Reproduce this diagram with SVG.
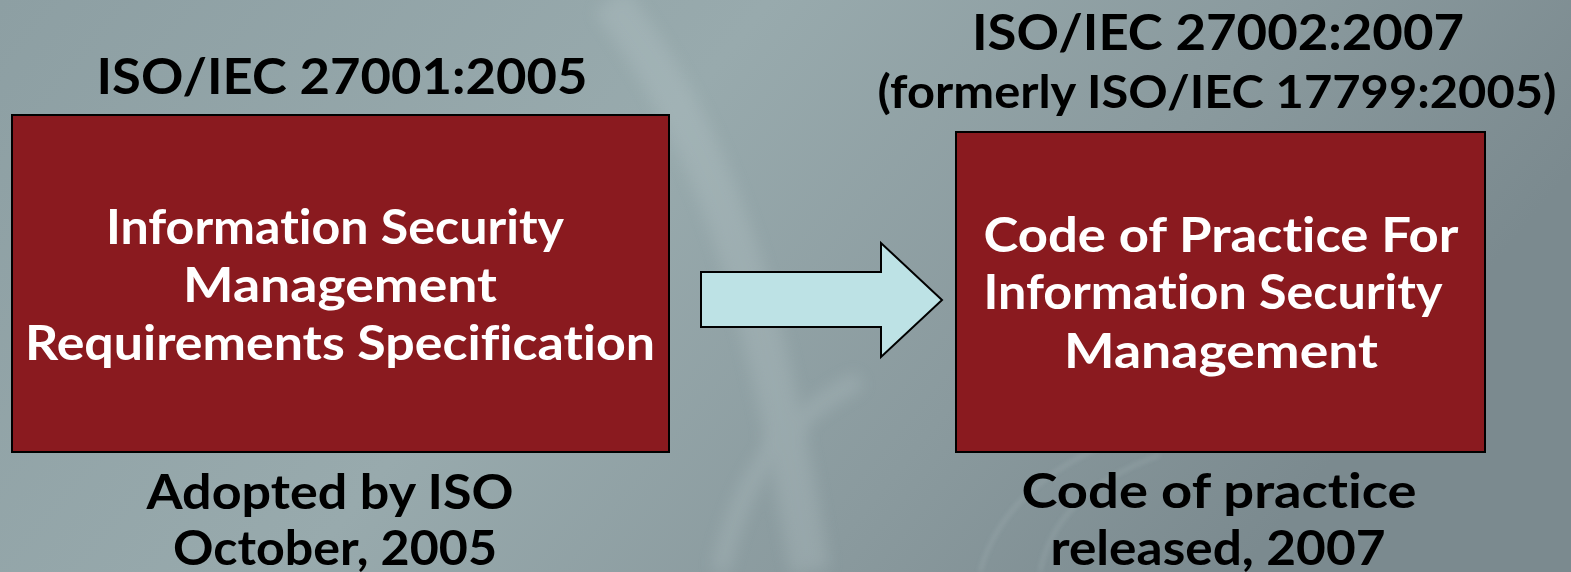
<svg xmlns="http://www.w3.org/2000/svg" width="1571" height="572" viewBox="0 0 1571 572">
  <defs>
    <linearGradient id="bg" x1="0" y1="0" x2="1" y2="0.3">
      <stop offset="0" stop-color="#8d9fa3"/>
      <stop offset="0.45" stop-color="#98aaad"/>
      <stop offset="0.75" stop-color="#8a9a9e"/>
      <stop offset="1" stop-color="#7b8a8f"/>
    </linearGradient>
    <filter id="soft" x="-20%" y="-20%" width="140%" height="140%">
      <feGaussianBlur stdDeviation="8"/>
    </filter>
    <filter id="soft2" x="-20%" y="-20%" width="140%" height="140%">
      <feGaussianBlur stdDeviation="2.5"/>
    </filter>
  </defs>
  <style>
    .box { fill: #8a1a1f; stroke: #000; stroke-width: 2; }
    .lbl, .in { font-family: "Lato", "Liberation Sans", sans-serif; font-weight: 700; text-anchor: middle; font-variant-ligatures: none; }
    .lbl { fill: #000; }
    .in  { fill: #fff; }
    .arrow { fill: #bde2e5; stroke: #000; stroke-width: 2; stroke-linejoin: miter; }
  </style>

  <!-- background with faint light swooshes -->
  <rect width="1571" height="572" fill="url(#bg)"/>
  <g fill="none" stroke="#c4d2d4" opacity="0.22">
    <path d="M610 0 C 700 120, 760 260, 810 572" stroke-width="40" filter="url(#soft)"/>
    <path d="M980 572 C 1000 500, 1060 460, 1140 430" stroke-width="3" filter="url(#soft2)"/>
    <path d="M1040 572 C 1050 520, 1090 480, 1160 455" stroke-width="3" filter="url(#soft2)"/>
    <path d="M720 572 C 740 480, 780 420, 860 380" stroke-width="18" filter="url(#soft)"/>
  </g>

  <!-- ISO/IEC 27001 -->
  <g id="iso27001">
    <text class="lbl" x="342" y="94" font-size="50" textLength="491" lengthAdjust="spacingAndGlyphs">ISO/IEC 27001:2005</text>
    <rect class="box" x="12" y="115" width="657" height="337"/>
    <text class="in" x="335" y="244" font-size="47" textLength="458" lengthAdjust="spacingAndGlyphs">Information Security</text>
    <text class="in" x="340" y="302" font-size="47" textLength="314" lengthAdjust="spacingAndGlyphs">Management</text>
    <text class="in" x="340" y="360" font-size="47" textLength="630" lengthAdjust="spacingAndGlyphs">Requirements Specification</text>
    <text class="lbl" x="330" y="509" font-size="47" textLength="367" lengthAdjust="spacingAndGlyphs">Adopted by ISO</text>
    <text class="lbl" x="335" y="565" font-size="47" textLength="324" lengthAdjust="spacingAndGlyphs">October, 2005</text>
  </g>

  <!-- ISO/IEC 27002 -->
  <g id="iso27002">
    <text class="lbl" x="1218" y="50" font-size="50" textLength="492" lengthAdjust="spacingAndGlyphs">ISO/IEC 27002:2007</text>
    <text class="lbl" x="1217" y="108" font-size="45" textLength="679" lengthAdjust="spacingAndGlyphs">(formerly ISO/IEC 17799:2005)</text>
    <rect class="box" x="956" y="132" width="529" height="320"/>
    <text class="in" x="1221" y="252" font-size="47" textLength="475" lengthAdjust="spacingAndGlyphs">Code of Practice For</text>
    <text class="in" x="1213" y="309" font-size="47" textLength="459" lengthAdjust="spacingAndGlyphs">Information Security</text>
    <text class="in" x="1221" y="368" font-size="47" textLength="314" lengthAdjust="spacingAndGlyphs">Management</text>
    <text class="lbl" x="1219" y="508" font-size="47" textLength="395" lengthAdjust="spacingAndGlyphs">Code of practice</text>
    <text class="lbl" x="1218" y="565" font-size="47" textLength="335" lengthAdjust="spacingAndGlyphs">released, 2007</text>
  </g>

  <!-- connector -->
  <g id="connectors">
    <polygon class="arrow" points="701,272 881,272 881,243 942,300 881,357 881,327 701,327"/>
  </g>
</svg>
